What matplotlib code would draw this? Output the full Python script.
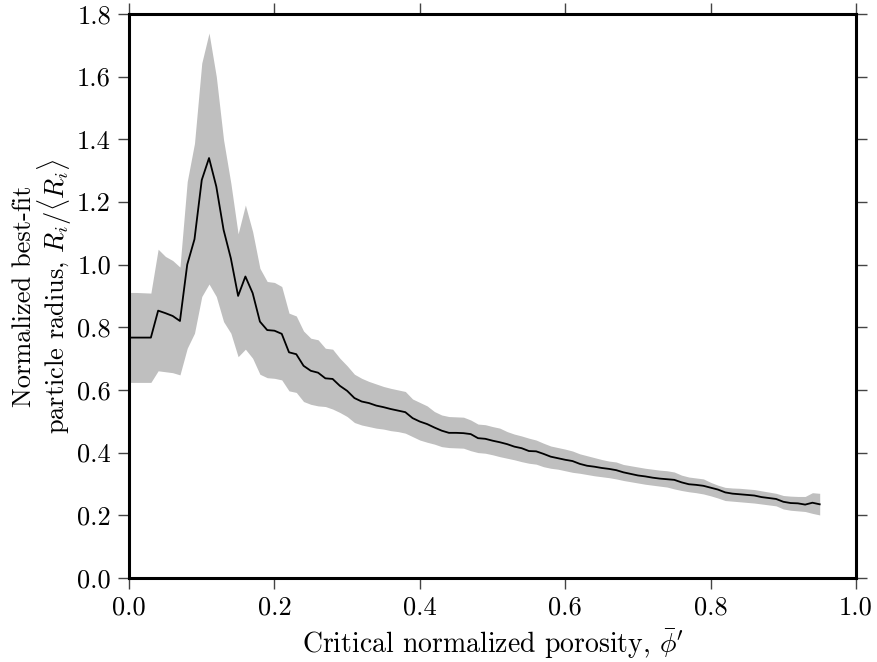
import matplotlib
matplotlib.use("Agg")
import matplotlib.pyplot as plt
import numpy as np

# computer modern look
plt.rcParams['font.family'] = 'serif'
plt.rcParams['font.serif'] = ['cmr10']
plt.rcParams['mathtext.fontset'] = 'cm'
plt.rcParams['axes.formatter.use_mathtext'] = True

# critical normalized porosity, step 0.01 from 0 to 0.95
phi = np.round(np.arange(0, 0.951, 0.01), 2)

radius_mean = [
    0.767, 0.767, 0.767, 0.767, 0.853, 0.845, 0.836, 0.820, 1.000, 1.081,
    1.270, 1.340, 1.249, 1.111, 1.020, 0.900, 0.962, 0.909, 0.818, 0.791,
    0.789, 0.779, 0.720, 0.714, 0.677, 0.661, 0.655, 0.637, 0.635, 0.613,
    0.597, 0.574, 0.563, 0.558, 0.550, 0.545, 0.539, 0.534, 0.529, 0.510,
    0.499, 0.491, 0.480, 0.470, 0.463, 0.463, 0.462, 0.459, 0.446, 0.444,
    0.438, 0.433, 0.427, 0.419, 0.414, 0.405, 0.404, 0.396, 0.387, 0.382,
    0.377, 0.373, 0.364, 0.358, 0.355, 0.351, 0.348, 0.344, 0.337, 0.332,
    0.327, 0.324, 0.320, 0.317, 0.315, 0.313, 0.305, 0.299, 0.297, 0.294,
    0.288, 0.282, 0.273, 0.269, 0.267, 0.265, 0.263, 0.258, 0.255, 0.252,
    0.243, 0.239, 0.238, 0.234, 0.240, 0.235,
]

radius_upper = [
    0.911, 0.911, 0.910, 0.909, 1.049, 1.026, 1.013, 0.992, 1.265, 1.387,
    1.643, 1.739, 1.600, 1.398, 1.260, 1.098, 1.190, 1.105, 0.988, 0.946,
    0.943, 0.930, 0.845, 0.836, 0.788, 0.765, 0.760, 0.733, 0.730, 0.701,
    0.677, 0.650, 0.637, 0.627, 0.619, 0.611, 0.605, 0.600, 0.595, 0.571,
    0.560, 0.549, 0.531, 0.520, 0.515, 0.514, 0.513, 0.504, 0.491, 0.489,
    0.483, 0.478, 0.467, 0.459, 0.453, 0.446, 0.440, 0.430, 0.421, 0.416,
    0.411, 0.405, 0.396, 0.390, 0.384, 0.378, 0.373, 0.370, 0.362, 0.358,
    0.354, 0.350, 0.347, 0.344, 0.342, 0.338, 0.328, 0.322, 0.319, 0.316,
    0.305, 0.296, 0.289, 0.287, 0.286, 0.284, 0.282, 0.278, 0.274, 0.270,
    0.263, 0.261, 0.260, 0.260, 0.272, 0.270,
]

radius_lower = [
    0.624, 0.624, 0.624, 0.624, 0.661, 0.658, 0.655, 0.648, 0.733, 0.781,
    0.898, 0.938, 0.898, 0.818, 0.781, 0.706, 0.730, 0.701, 0.650, 0.639,
    0.637, 0.632, 0.597, 0.592, 0.563, 0.554, 0.549, 0.547, 0.539, 0.528,
    0.515, 0.496, 0.488, 0.483, 0.478, 0.475, 0.470, 0.467, 0.462, 0.451,
    0.440, 0.433, 0.427, 0.419, 0.416, 0.415, 0.414, 0.406, 0.400, 0.398,
    0.393, 0.387, 0.382, 0.377, 0.371, 0.366, 0.363, 0.355, 0.350, 0.347,
    0.342, 0.337, 0.334, 0.330, 0.326, 0.323, 0.320, 0.316, 0.311, 0.307,
    0.303, 0.299, 0.296, 0.293, 0.290, 0.284, 0.279, 0.275, 0.272, 0.268,
    0.262, 0.255, 0.247, 0.245, 0.243, 0.241, 0.239, 0.236, 0.233, 0.230,
    0.220, 0.216, 0.214, 0.212, 0.206, 0.201,
]

fig = plt.figure(figsize=(8.78, 6.62), dpi=100)
ax = fig.add_axes([0.147, 0.127, 0.828, 0.852])

ax.fill_between(phi, radius_lower, radius_upper, color='#bfbfbf', linewidth=0)
ax.plot(phi, radius_mean, color='black', linewidth=1.3)

ax.set_xlim(0, 1.0)
ax.set_ylim(0, 1.8)
ax.set_xticks(np.arange(0, 1.01, 0.2))
ax.set_yticks(np.arange(0, 1.81, 0.2))
ax.xaxis.set_major_formatter(matplotlib.ticker.FormatStrFormatter('%.1f'))
ax.yaxis.set_major_formatter(matplotlib.ticker.FormatStrFormatter('%.1f'))

ax.tick_params(direction='out', length=8, width=1, labelsize=19,
               top=True, right=True, pad=5, color='#444444')
for sp in ax.spines.values():
    sp.set_linewidth(2.2)

ax.set_xlabel("Critical normalized porosity, $\\bar{\\phi}'$", fontsize=20, labelpad=6)
ax.set_ylabel("Normalized best-fit\nparticle radius, $R_i/\\langle R_i\\rangle$",
              fontsize=19, labelpad=2, linespacing=1.0)

fig.savefig('out.png', dpi=100)
